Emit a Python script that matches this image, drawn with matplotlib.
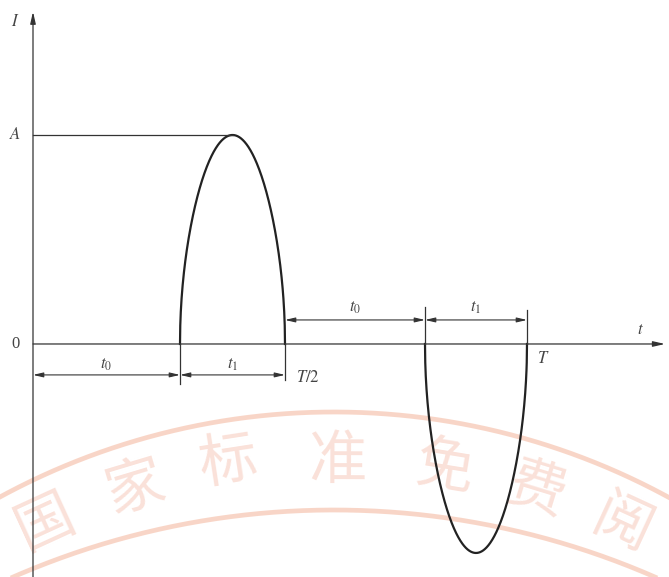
import numpy as np
import matplotlib
matplotlib.use('Agg')
import matplotlib.pyplot as plt

plt.rcParams['mathtext.fontset'] = 'stix'
plt.rcParams['font.family'] = ['Liberation Serif', 'DejaVu Serif']

# pulse edges (fractions of the period)
pulse_start = [0.294, 0.784]
pulse_end = [0.504, 0.988]
pulse_sign = [1, -1]
amp = 1.0
half_period = 0.504
period = 0.988

# watermark (pixel positions in the scanned page)
wm_chars = ['国', '家', '标', '准', '免', '费', '阅']
wm_x = [46, 135, 228, 337, 445, 537, 622]
wm_y = [522, 488, 462, 462, 468, 490, 526]

line_col = '#333333'
txt_col = '#444444'

fig = plt.figure(figsize=(6.69, 5.77), dpi=100)

# watermark layer, pixel coordinates
axw = fig.add_axes([0, 0, 1, 1], zorder=0)
axw.set_xlim(0, 669)
axw.set_ylim(577, 0)
axw.axis('off')
for cx, cy, r in [(334, 1111, 699), (334, 1312, 802)]:
    phi = np.linspace(-0.6, 0.6, 200)
    axw.plot(cx + r * np.sin(phi), cy - r * np.cos(phi),
             color='#f4b49a', lw=3.4, alpha=0.55, solid_capstyle='butt')
for ch, x, y in zip(wm_chars, wm_x, wm_y):
    rot = -np.degrees(np.arctan2(x - 334, 1150 - y))
    axw.text(x, y, ch, fontsize=42, color='#f0a48c', alpha=0.33,
             ha='center', va='center', rotation=rot,
             family=['Noto Sans CJK SC', 'DejaVu Sans'])

# main drawing
ax = fig.add_axes([0, 0, 1, 1], zorder=1)
ax.patch.set_visible(False)
ax.set_xlim(-0.066, 1.272)
ax.set_ylim(-1.115, 1.646)
ax.axis('off')

arrow_kw = dict(arrowstyle='-|>,head_length=0.7,head_width=0.16',
                color=line_col, lw=0.9, shrinkA=0, shrinkB=0)
dim_kw = dict(arrowstyle='<|-|>,head_length=0.6,head_width=0.14',
              color=line_col, lw=0.8, shrinkA=0, shrinkB=0)

# axes with arrows
ax.annotate('', xy=(0, 1.59), xytext=(0, -1.115), arrowprops=arrow_kw)
ax.annotate('', xy=(1.264, 0), xytext=(0, 0), arrowprops=arrow_kw)

# pulses
for s, e, sg in zip(pulse_start, pulse_end, pulse_sign):
    u = np.linspace(0, 1, 400)
    x = s + (e - s) * u
    y = sg * amp * np.sqrt(np.sin(np.pi * u))
    ax.plot(x, y, color='#222222', lw=1.6)

# A level line
ax.plot([0, (pulse_start[0] + pulse_end[0]) / 2], [amp, amp], color=line_col, lw=0.9)

# extension lines
ax.plot([pulse_start[0]] * 2, [0, -0.19], color=line_col, lw=0.9)
ax.plot([pulse_end[0]] * 2, [0, -0.17], color=line_col, lw=0.9)
ax.plot([pulse_start[1]] * 2, [0, 0.175], color=line_col, lw=0.9)
ax.plot([pulse_end[1]] * 2, [0, 0.165], color=line_col, lw=0.9)

# dimension lines
yb, ya = -0.148, 0.115
ax.annotate('', xy=(0, yb), xytext=(pulse_start[0], yb), arrowprops=dim_kw)
ax.annotate('', xy=(pulse_start[0], yb), xytext=(pulse_end[0], yb), arrowprops=dim_kw)
ax.annotate('', xy=(pulse_end[0], ya), xytext=(pulse_start[1], ya), arrowprops=dim_kw)
ax.annotate('', xy=(pulse_start[1], ya), xytext=(pulse_end[1], ya), arrowprops=dim_kw)

fs = 12
ax.text(pulse_start[0] / 2, -0.1, r'$t_0$', fontsize=fs, color=txt_col, ha='center', va='center')
ax.text((pulse_start[0] + pulse_end[0]) / 2, -0.1, r'$t_1$', fontsize=fs, color=txt_col, ha='center', va='center')
ax.text((pulse_end[0] + pulse_start[1]) / 2, 0.172, r'$t_0$', fontsize=fs, color=txt_col, ha='center', va='center')
ax.text((pulse_start[1] + pulse_end[1]) / 2, 0.172, r'$t_1$', fontsize=fs, color=txt_col, ha='center', va='center')
ax.text(half_period + 0.022, -0.165, r'$T/2$', fontsize=fs, color=txt_col, ha='left', va='center')
ax.text(period + 0.02, -0.07, r'$T$', fontsize=fs, color=txt_col, ha='left', va='center')
ax.text(1.214, 0.065, r'$t$', fontsize=fs, color=txt_col, ha='center', va='center')
ax.text(-0.036, 1.54, r'$I$', fontsize=fs, color=txt_col, ha='center', va='center')
ax.text(-0.036, amp, r'$A$', fontsize=fs, color=txt_col, ha='center', va='center')
ax.text(-0.036, 0, '0', fontsize=fs, color=txt_col, ha='center', va='center')

fig.savefig('out.png', dpi=100)
